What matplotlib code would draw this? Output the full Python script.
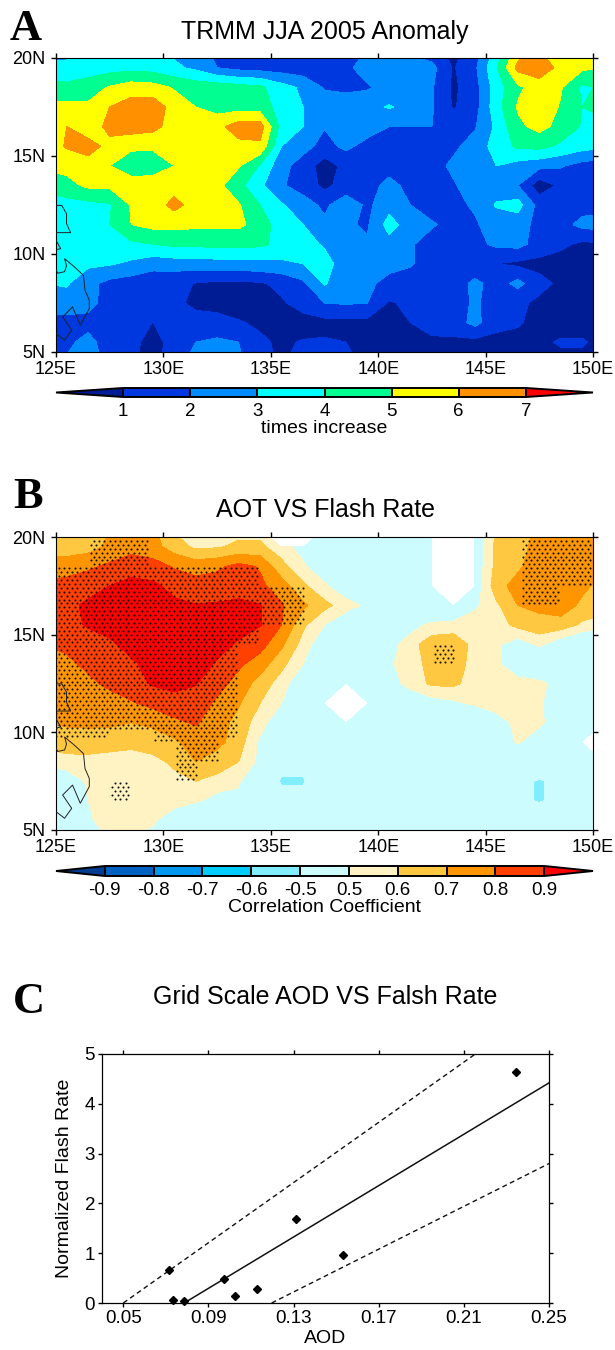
import numpy as np
import matplotlib
matplotlib.use("Agg")
import matplotlib.pyplot as plt
from matplotlib.path import Path

W, H = 615, 1350

plt.rcParams['font.family'] = ['Liberation Sans', 'DejaVu Sans']

LON = [124.5 + i for i in range(27)]
LAT = [20.5 - i for i in range(17)]

# panel A, rows from 20.5N down to 4.5N, columns from 124.5E to 150.5E
TRMM = [
    [2.6,2.7,3.4,3.6,3.6,3.4,2.7,2.4,1.7,1.5,1.4,1.3,1.1,0.6,1.2,2.0,2.2,1.7,1.3,0.7,1.5,3.3,5.4,6.0,5.6,5.2,5.2],
    [3.2,3.2,3.5,3.6,3.7,3.6,3.2,2.8,2.0,1.7,1.6,1.5,1.4,1.4,1.8,2.4,2.5,2.5,2.3,0.9,1.8,3.9,6.3,6.6,5.7,5.2,5.0],
    [4.4,4.3,4.5,5.1,5.5,5.4,4.9,4.6,4.6,4.4,4.2,3.4,2.8,1.9,1.8,1.9,2.3,2.5,2.1,0.8,1.6,3.5,4.8,5.5,5.1,3.8,4.2],
    [5.2,5.3,5.2,6.0,6.5,6.6,5.6,5.0,4.6,4.6,4.5,3.6,3.0,2.6,2.5,2.6,3.1,2.6,2.1,0.9,1.6,3.6,5.1,5.7,4.9,4.0,4.6],
    [5.5,6.0,5.4,6.3,6.5,6.3,5.6,5.3,5.7,6.5,6.5,3.6,3.0,2.05,2.5,2.4,2.0,2.0,2.0,1.7,1.9,3.2,4.8,5.3,4.7,3.9,3.5],
    [5.4,6.1,6.4,5.7,5.2,5.2,5.5,5.6,5.7,5.7,5.8,3.0,2.3,1.7,2.2,1.7,1.7,1.6,1.2,1.8,2.4,3.4,4.2,4.3,3.8,3.4,3.2],
    [5.2,5.3,5.6,5.0,4.4,4.3,5.0,5.4,5.4,5.1,3.9,2.3,1.6,0.5,1.3,1.6,1.6,1.5,1.6,2.2,2.5,3.0,2.6,2.3,2.1,1.6,1.5],
    [4.2,4.7,5.2,5.2,5.5,5.7,5.6,5.5,5.3,4.3,3.2,2.1,1.6,0.75,1.4,1.6,2.3,1.7,1.6,1.9,2.5,2.5,2.0,0.4,1.2,1.5,1.5],
    [3.5,3.6,3.7,3.9,5.1,5.5,6.3,5.6,5.4,5.1,4.0,3.1,2.4,1.8,2.6,1.8,2.6,2.0,1.6,1.8,2.1,3.1,3.4,1.6,1.5,1.6,1.6],
    [3.5,3.5,3.6,4.0,5.0,5.3,5.3,5.2,5.2,5.2,4.6,3.4,3.0,2.2,2.1,1.9,3.4,2.5,2.1,1.7,1.9,2.4,2.4,1.7,1.6,2.3,2.4],
    [3.4,3.4,3.5,3.6,3.8,4.0,4.2,4.2,4.3,4.3,4.2,3.7,3.3,2.9,2.3,2.1,2.6,2.1,1.6,1.1,1.7,2.2,2.3,1.6,1.2,0.8,0.9],
    [3.3,3.4,3.2,3.1,2.8,2.4,2.5,2.5,2.6,2.6,2.7,2.8,3.0,3.3,2.6,2.4,2.3,2.1,1.5,1.2,1.1,1.0,0.8,0.7,0.6,0.6,0.6],
    [3.0,3.1,2.3,1.7,1.5,1.3,1.2,0.97,0.8,0.8,0.9,1.2,1.8,3.1,2.3,2.2,1.7,1.5,1.4,1.3,2.3,1.5,2.3,1.3,0.8,0.6,0.6],
    [2.8,2.6,2.3,1.6,1.4,1.3,1.3,0.7,0.7,0.7,0.8,0.9,1.3,2.0,2.1,2.0,0.9,1.2,1.4,1.4,2.2,1.4,1.2,0.8,0.6,0.6,0.6],
    [1.5,1.6,1.7,1.1,1.5,0.98,1.6,1.5,1.3,1.05,0.9,0.8,0.7,0.7,0.7,0.7,0.8,1.0,1.4,1.5,2.3,1.3,1.1,0.7,0.6,0.6,0.6],
    [1.6,1.8,2.3,1.5,1.3,0.6,1.4,2.0,2.2,2.0,1.1,0.9,1.05,1.1,1.0,0.8,0.7,0.7,0.8,0.8,0.7,0.7,0.7,0.8,1.1,1.1,0.7],
    [2.5,2.1,2.6,1.6,1.2,0.6,1.5,2.4,2.5,2.2,1.2,0.9,1.3,1.3,1.2,0.8,0.7,0.8,1.1,1.2,1.0,0.8,0.7,0.7,0.7,0.7,0.7],
]

# panel B, same grid
CORR = [
    [.50,.60,.62,.70,.74,.72,.58,.55,.56,.56,.56,.45,.40,.35,.30,.30,.30,.30,.30,.30,.42,.60,.65,.72,.74,.74,.74],
    [.65,.65,.66,.72,.76,.74,.65,.58,.59,.62,.62,.55,.45,.40,.35,.30,.30,.30,.30,.30,.42,.63,.67,.73,.76,.78,.78],
    [.74,.75,.78,.82,.86,.84,.79,.76,.78,.83,.79,.63,.52,.40,.30,.30,.30,.30,.30,.30,.42,.63,.68,.76,.78,.79,.78],
    [.82,.84,.87,.90,.93,.92,.87,.84,.85,.86,.82,.75,.62,.52,.40,.30,.30,.30,.30,.30,.42,.66,.74,.78,.78,.72,.67],
    [.84,.88,.915,.92,.94,.95,.92,.905,.91,.92,.905,.81,.72,.63,.55,.47,.35,.30,.30,.30,.48,.58,.70,.72,.75,.68,.66],
    [.83,.87,.91,.92,.94,.95,.94,.93,.92,.93,.905,.80,.62,.50,.40,.35,.38,.45,.53,.55,.55,.55,.63,.67,.66,.58,.54],
    [.80,.82,.85,.89,.92,.93,.95,.95,.93,.89,.84,.72,.56,.40,.30,.30,.45,.56,.66,.66,.57,.52,.44,.52,.42,.35,.30],
    [.76,.78,.82,.85,.89,.92,.93,.94,.89,.82,.75,.63,.50,.35,.30,.30,.48,.56,.63,.64,.57,.52,.42,.35,.30,.30,.30],
    [.72,.74,.78,.82,.86,.91,.93,.905,.84,.76,.66,.55,.40,.30,.30,.30,.45,.54,.62,.62,.56,.54,.54,.53,.45,.30,.30],
    [.72,.73,.75,.76,.79,.83,.86,.86,.78,.71,.60,.50,.35,.30,.30,.30,.30,.40,.45,.48,.52,.55,.56,.52,.40,.30,.30],
    [.70,.72,.72,.72,.70,.72,.78,.81,.74,.67,.54,.42,.30,.30,.30,.30,.30,.30,.30,.30,.35,.45,.53,.53,.40,.30,.30],
    [.62,.63,.65,.64,.63,.65,.68,.75,.73,.65,.48,.30,.30,.30,.30,.30,.30,.30,.30,.30,.30,.35,.52,.40,.30,.30,.30],
    [.56,.58,.57,.56,.55,.57,.62,.70,.65,.60,.47,-.3,-.3,.30,.30,.30,.30,.30,.30,.30,.30,.30,.30,.00,.30,.30,.30],
    [.30,.40,.52,.56,.56,.56,.57,.60,.57,.55,.00,-.56,-.56,.00,.30,.30,.30,.30,.30,.30,.30,.30,-.35,-.55,-.35,.30,.30],
    [.30,.35,.50,.56,.56,.56,.55,.52,.45,.40,.30,-.3,-.3,.30,.30,.30,.30,.30,.30,.30,.30,.30,-.35,-.55,-.35,.30,.30],
    [.30,.30,.48,.56,.55,.52,.42,.30,.30,.30,.30,.30,.30,.30,.30,.30,.30,.30,.30,.30,.30,.30,.30,.00,.30,.30,.30],
    [.30,.30,.40,.50,.50,.45,.35,.30,.30,.30,.30,.30,.30,.30,.30,.30,.30,.30,.30,.30,.30,.30,.30,.30,.30,.30,.30],
]

# grid points with no colour in panel B (lon, lat)
GAP_POINTS = [(143.5, 20.5), (143.5, 19.5), (143.5, 18.5), (143.5, 17.5),
              (135.5, 20.5), (136.5, 20.5), (138.5, 11.5), (150.5, 9.5)]

# areas of significance in panel B (lon, lat outlines)
STIPPLE_AREAS = [
    [(126.59,19.9),(129.33,19.9),(129.33,18.55),(134.44,18.55),(134.44,17.53),(136.54,17.53),
     (136.54,15.58),(134.44,15.58),(134.44,14.56),(133.44,14.56),(133.44,9.63),(132.52,9.63),
     (132.52,8.52),(131.52,8.52),(131.52,7.5),(130.51,7.5),(130.51,9.54),(129.51,9.54),
     (129.51,10.05),(127.5,10.05),(127.5,9.63),(124.9,9.63),(124.9,18.55),(126.59,18.55)],
    [(127.6,7.41),(128.5,7.41),(128.5,6.56),(127.6,6.56)],
    [(142.57,14.47),(143.57,14.47),(143.57,13.54),(142.57,13.54)],
    [(146.64,19.9),(149.96,19.9),(149.96,17.53),(148.41,17.53),(148.41,16.51),(146.64,16.51)],
]

COAST = [
    [(125.0,12.48),(125.27,12.48),(125.49,12.05),(125.49,11.55),(125.68,11.09),(125.0,11.09)],
    [(125.0,10.7),(125.22,10.27),(125.0,10.22)],
    [(125.0,9.2),(125.08,9.02),(125.4,9.1),(125.49,9.4),(125.4,9.76),(125.86,9.34),(126.28,8.91),
     (126.35,8.15),(126.55,7.64),(126.55,7.22),(126.13,6.37),(125.77,7.3),(125.31,6.79),
     (125.73,6.11),(125.4,5.6),(125.0,5.94)],
]

TRMM_LEVELS = [1, 2, 3, 4, 5, 6, 7]
TRMM_COLORS = ['#001c94', '#0038e0', '#008cff', '#00ffff', '#00ff90', '#ffff00', '#ff9000', '#ff0000']
CORR_LEVELS = [-0.9, -0.8, -0.7, -0.6, -0.5, 0.5, 0.6, 0.7, 0.8, 0.9]
CORR_COLORS = ['#003c90', '#0062c0', '#0098ee', '#00ccff', '#80eeff', '#cdfcff',
               '#fff3c4', '#ffc840', '#ff9500', '#ff4000', '#ff0000']

AOD = [0.0716, 0.0733, 0.0783, 0.0975, 0.1027, 0.1128, 0.1311, 0.1533, 0.2347]
FLASH = [0.67, 0.07, 0.04, 0.48, 0.15, 0.28, 1.69, 0.96, 4.63]
FIT_X = [0.0786, 0.25]
FIT_Y = [0.0, 4.42]
UPPER_X = [0.05, 0.2154]
UPPER_Y = [0.0, 5.0]
LOWER_X = [0.1197, 0.25]
LOWER_Y = [0.0, 2.8]
AOD_TICKS = [0.05, 0.09, 0.13, 0.17, 0.21, 0.25]
FLASH_TICKS = [0, 1, 2, 3, 4, 5]


def px_axes(fig, x0, y0, x1, y1):
    return fig.add_axes([x0 / W, 1 - y1 / H, (x1 - x0) / W, (y1 - y0) / H])


def setup_map(ax):
    ax.set_xlim(125, 150)
    ax.set_ylim(5, 20)
    ax.set_xticks(range(125, 151, 5))
    ax.set_xticklabels(['%dE' % v for v in range(125, 151, 5)])
    ax.set_yticks(range(5, 21, 5))
    ax.set_yticklabels(['%dN' % v for v in range(5, 21, 5)])
    ax.tick_params(top=True, right=True, direction='out', length=3.5, width=1, labelsize=13)
    ax.tick_params(axis='x', pad=3)
    ax.tick_params(axis='y', pad=4)
    for s in ax.spines.values():
        s.set_linewidth(0.8)
    for seg in COAST:
        xs, ys = zip(*seg)
        ax.plot(xs, ys, color='#222222', lw=0.7, zorder=5)


def add_bar(fig, cs, y0, y1, frac, ticks, labels, text):
    cax = px_axes(fig, 56, y0, 593, y1)
    cb = fig.colorbar(cs, cax=cax, orientation='horizontal', extend='both',
                      extendfrac=frac, drawedges=True, spacing='uniform', ticks=ticks)
    cb.ax.set_xticklabels(labels)
    cb.ax.tick_params(length=0, labelsize=13.5, pad=4.5)
    cb.outline.set_linewidth(1.4)
    cb.dividers.set_linewidth(1.4)
    cb.set_label(text, fontsize=14, labelpad=0)


def add_stipple(ax):
    xs, ys = np.meshgrid(np.arange(125, 150.1, 0.25), np.arange(5, 20.01, 0.2))
    xs = xs.copy()
    xs[1::2, :] += 0.125
    pts = np.column_stack([xs.ravel(), ys.ravel()])
    for area in STIPPLE_AREAS:
        inside = pts[Path(area).contains_points(pts)]
        ax.scatter(inside[:, 0], inside[:, 1], s=2.2, color='#111111', linewidths=0, zorder=4)


fig = plt.figure(figsize=(W / 100, H / 100), dpi=100, facecolor='white')

# panel A
ax_a = px_axes(fig, 56, 58, 593, 352)
cs_a = ax_a.contourf(LON, LAT, np.array(TRMM), levels=TRMM_LEVELS, colors=TRMM_COLORS, extend='both')
setup_map(ax_a)
add_bar(fig, cs_a, 388, 397, 1 / 6, TRMM_LEVELS, [str(v) for v in TRMM_LEVELS], 'times increase')

# panel B
ax_b = px_axes(fig, 56, 537, 593, 830)
cs_b = ax_b.contourf(LON, LAT, np.array(CORR), levels=CORR_LEVELS, colors=CORR_COLORS, extend='both')
gap = np.zeros((len(LAT), len(LON)))
for lon, lat in GAP_POINTS:
    gap[LAT.index(lat), LON.index(lon)] = 1
ax_b.contourf(LON, LAT, gap, levels=[0.05, 2], colors=['white'])
add_stipple(ax_b)
setup_map(ax_b)
add_bar(fig, cs_b, 866, 876, 1 / 9, CORR_LEVELS, ['%.1f' % v for v in CORR_LEVELS], 'Correlation Coefficient')

# panel C
ax_c = px_axes(fig, 102, 1054, 549, 1303)
ax_c.plot(FIT_X, FIT_Y, color='#111111', lw=1.1)
ax_c.plot(UPPER_X, UPPER_Y, color='#111111', lw=1.0, dashes=(3.5, 2.5))
ax_c.plot(LOWER_X, LOWER_Y, color='#111111', lw=1.0, dashes=(3.5, 2.5))
ax_c.plot(AOD, FLASH, ls='none', marker='D', ms=4.2, color='black', clip_on=False)
ax_c.set_xlim(0.04, 0.25)
ax_c.set_ylim(0, 5)
ax_c.set_xticks(AOD_TICKS)
ax_c.set_xticklabels(['%.2f' % v for v in AOD_TICKS])
ax_c.set_yticks(FLASH_TICKS)
ax_c.tick_params(top=True, right=True, direction='out', length=3, width=1, labelsize=13.5, pad=2)
ax_c.set_xlabel('AOD', fontsize=14, labelpad=2)
ax_c.set_ylabel('Normalized Flash Rate', fontsize=14, labelpad=8)
for s in ax_c.spines.values():
    s.set_linewidth(0.9)

# titles and panel letters
fig.text(325 / W, 1 - 32 / H, 'TRMM JJA 2005 Anomaly', fontsize=18, ha='center', va='center')
fig.text(325 / W, 1 - 510 / H, 'AOT VS Flash Rate', fontsize=18, ha='center', va='center')
fig.text(325 / W, 1 - 997 / H, 'Grid Scale AOD VS Falsh Rate', fontsize=18, ha='center', va='center')
for letter, x, y in [('A', 10, 40), ('B', 13, 508), ('C', 13, 1013)]:
    fig.text(x / W, 1 - y / H, letter, fontsize=32, family='Liberation Serif', weight='bold',
             ha='left', va='baseline')

fig.savefig('out.png', dpi=100)
